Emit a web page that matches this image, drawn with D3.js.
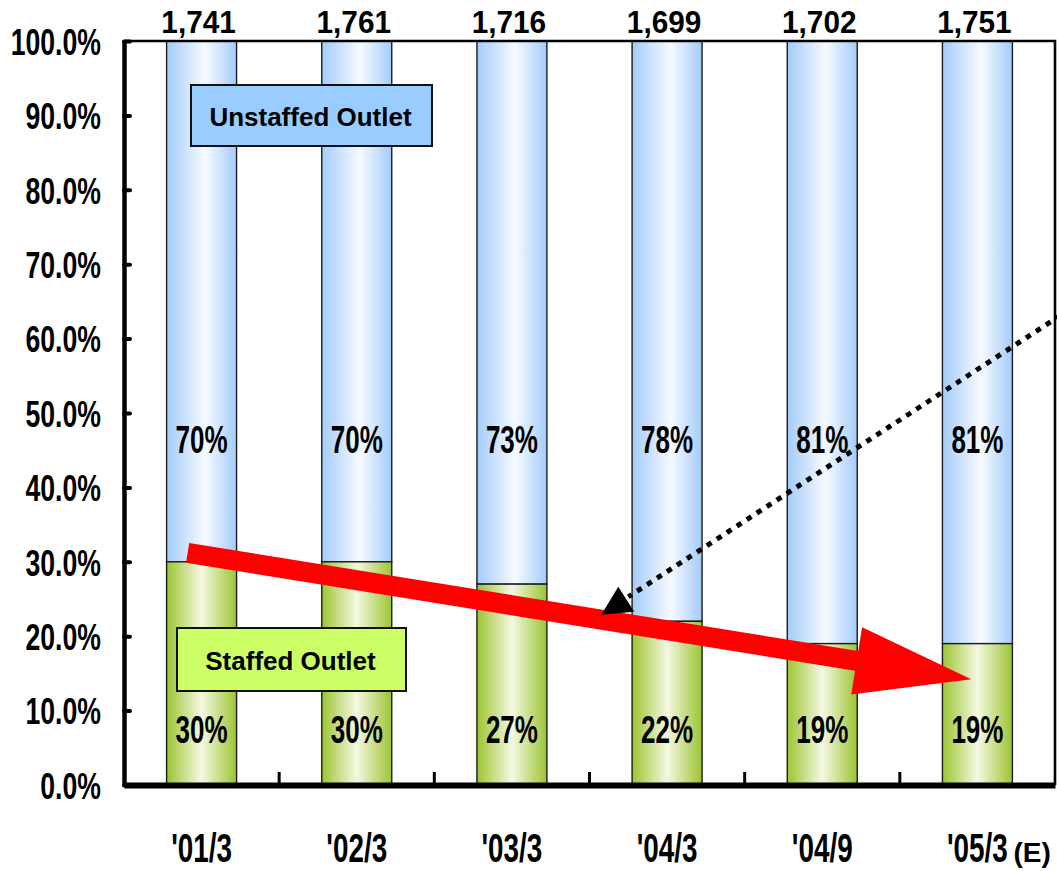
<!DOCTYPE html>
<html>
<head>
<meta charset="utf-8">
<script src="https://cdn.jsdelivr.net/npm/d3@7"></script>
<style>
  html, body { margin: 0; padding: 0; background: #ffffff; }
  svg { display: block; font-family: "Liberation Sans", Arial, Helvetica, sans-serif; }
</style>
</head>
<body>
<svg id="chart" width="1057" height="871"></svg>
<script>
// Outlet mix by fiscal period
const categories = ["'01/3", "'02/3", "'03/3", "'04/3", "'04/9", "'05/3"];
const categorySuffix = ["", "", "", "", "", "(E)"];
const staffedShare = [30, 30, 27, 22, 19, 19];
const unstaffedShare = [70, 70, 73, 78, 81, 81];
const outletTotals = [1741, 1761, 1716, 1699, 1702, 1751];
const yTicks = [0, 10, 20, 30, 40, 50, 60, 70, 80, 90, 100];

// Trend annotations in data units (category index, percent)
const trendArrow = { from: [-0.09, 31.2], to: [4.96, 14.2] };
const pointerArrow = { from: [5.6, 64], to: [2.75, 25.3] };

const W = 1057, H = 871;
const plot = { left: 124, right: 1055, top: 41, bottom: 785 };
const FONT = "'Liberation Sans', Arial, Helvetica, sans-serif";

const svg = d3.select("#chart");

const x = d3.scaleBand()
  .domain(categories)
  .range([plot.left, plot.right])
  .paddingInner(0.549)
  .paddingOuter(0.2745);

const y = d3.scaleLinear().domain([0, 100]).range([plot.bottom, plot.top]);

const bw = x.bandwidth();
const step = x.step();
const cx = c => x(c) + bw / 2;
const xIdx = i => x(categories[0]) + bw / 2 + i * step;

// Horizontal "cylinder" gradients for the bar segments
const defs = svg.append("defs");
function hGrad(id, edge, mid, midPos) {
  const g = defs.append("linearGradient").attr("id", id)
    .attr("x1", "0%").attr("x2", "100%").attr("y1", "0%").attr("y2", "0%");
  g.append("stop").attr("offset", "0%").attr("stop-color", edge);
  g.append("stop").attr("offset", midPos).attr("stop-color", mid);
  g.append("stop").attr("offset", "100%").attr("stop-color", edge);
}
hGrad("gradBlue", "#a3ccfa", "#f7faff", "55%");
hGrad("gradGreen", "#9cc532", "#f4f8e2", "50%");

// Bars: staffed at the bottom, unstaffed stacked on top
const bars = svg.append("g").selectAll("g")
  .data(categories.map((c, i) => ({ c, s: staffedShare[i], u: unstaffedShare[i], total: outletTotals[i] })))
  .join("g");

bars.append("rect")
  .attr("x", d => x(d.c))
  .attr("width", bw)
  .attr("y", d => y(d.s + d.u))
  .attr("height", d => y(d.s) - y(d.s + d.u))
  .attr("fill", "url(#gradBlue)")
  .attr("stroke", "#1c1c1c")
  .attr("stroke-width", 1.4);

bars.append("rect")
  .attr("x", d => x(d.c))
  .attr("width", bw)
  .attr("y", d => y(d.s))
  .attr("height", d => y(0) - y(d.s))
  .attr("fill", "url(#gradGreen)")
  .attr("stroke", "#1c1c1c")
  .attr("stroke-width", 1.4);

// Plot frame (top and right edges)
svg.append("path")
  .attr("d", `M${plot.left},${plot.top}H${plot.right}V${plot.bottom}`)
  .attr("fill", "none").attr("stroke", "#000").attr("stroke-width", 2.6);

// Y axis
const yAxis = svg.append("g")
  .attr("transform", `translate(${plot.left},0)`)
  .call(d3.axisLeft(y).tickValues(yTicks).tickSizeInner(-6).tickSizeOuter(0)
    .tickPadding(23).tickFormat(d => d.toFixed(1) + "%"));
yAxis.attr("font-family", FONT).attr("font-size", 37).attr("font-weight", "bold");
yAxis.select(".domain").attr("stroke-width", 4.5);
yAxis.selectAll(".tick line").attr("stroke-width", 4).attr("stroke-linecap", "round");
yAxis.selectAll(".tick text")
  .attr("x", null).attr("dy", null)
  .attr("transform", `translate(-23,${0.358 * 37}) scale(0.72,1)`);

// X axis baseline
const xAxis = svg.append("g")
  .attr("transform", `translate(0,${plot.bottom})`)
  .call(d3.axisBottom(x).tickSize(0).tickFormat(""));
xAxis.select(".domain").attr("stroke-width", 6);

// Tick marks between categories
svg.append("g").selectAll("line")
  .data(categories.slice(0, -1))
  .join("line")
  .attr("x1", d => x(d) + bw + (step - bw) / 2)
  .attr("x2", d => x(d) + bw + (step - bw) / 2)
  .attr("y1", plot.bottom)
  .attr("y2", plot.bottom - 13)
  .attr("stroke", "#000").attr("stroke-width", 3);

// Category labels
const catLabels = svg.append("g").attr("font-family", FONT).attr("font-weight", "bold");
catLabels.selectAll("text.cat")
  .data(categories)
  .join("text")
  .attr("class", "cat")
  .attr("text-anchor", "middle")
  .attr("font-size", 41)
  .attr("transform", d => `translate(${cx(d)},862) scale(0.68,1)`)
  .text(d => d);
catLabels.selectAll("text.suffix")
  .data(categories.map((c, i) => ({ c, s: categorySuffix[i] })).filter(d => d.s))
  .join("text")
  .attr("class", "suffix")
  .attr("font-size", 28)
  .attr("x", d => cx(d.c) + 36)
  .attr("y", 862)
  .text(d => d.s);

// Totals above each bar
svg.append("g").selectAll("text")
  .data(categories.map((c, i) => ({ c, v: outletTotals[i] })))
  .join("text")
  .attr("font-family", FONT).attr("font-weight", "bold").attr("font-size", 31)
  .attr("text-anchor", "middle")
  .attr("transform", d => `translate(${cx(d.c) - 3},33) scale(0.96,1)`)
  .text(d => d3.format(",")(d.v));

// Share labels inside the bars
const pctFs = 39;
const shareLabels = svg.append("g").attr("font-family", FONT).attr("font-weight", "bold")
  .attr("font-size", pctFs).attr("text-anchor", "middle");
shareLabels.selectAll("text.u")
  .data(categories.map((c, i) => ({ c, v: unstaffedShare[i] })))
  .join("text").attr("class", "u")
  .attr("transform", d => `translate(${cx(d.c)},${y(46.5) + 0.358 * pctFs}) scale(0.667,1)`)
  .text(d => d.v + "%");
shareLabels.selectAll("text.s")
  .data(categories.map((c, i) => ({ c, v: staffedShare[i] })))
  .join("text").attr("class", "s")
  .attr("transform", d => `translate(${cx(d.c)},${y(7.5) + 0.358 * pctFs}) scale(0.667,1)`)
  .text(d => d.v + "%");

// Series name boxes
const seriesBoxes = [
  { name: "Unstaffed Outlet", fill: "#99ccff", x0: 191, x1: 432, y0: 85, y1: 146 },
  { name: "Staffed Outlet", fill: "#ccff66", x0: 177, x1: 406, y0: 628, y1: 691 }
];
const boxG = svg.append("g").selectAll("g").data(seriesBoxes).join("g");
boxG.append("rect")
  .attr("x", d => d.x0).attr("y", d => d.y0)
  .attr("width", d => d.x1 - d.x0).attr("height", d => d.y1 - d.y0)
  .attr("fill", d => d.fill).attr("stroke", "#111").attr("stroke-width", 2);
boxG.append("text")
  .attr("x", d => (d.x0 + d.x1) / 2 - 1)
  .attr("y", d => (d.y0 + d.y1) / 2 + 10)
  .attr("text-anchor", "middle")
  .attr("font-family", FONT).attr("font-weight", "bold").attr("font-size", 26)
  .text(d => d.name);

// Red downward trend arrow
(function () {
  const S = [xIdx(trendArrow.from[0]), y(trendArrow.from[1])];
  const T = [xIdx(trendArrow.to[0]), y(trendArrow.to[1])];
  const dx = T[0] - S[0], dy = T[1] - S[1];
  const len = Math.hypot(dx, dy);
  const u = [dx / len, dy / len], n = [-u[1], u[0]];
  const headLen = 116, headHalf = 34, shaftHalf = 10;
  const B = [T[0] - u[0] * headLen, T[1] - u[1] * headLen];
  const p = (P, k) => [P[0] + n[0] * k, P[1] + n[1] * k];
  const pts = [p(S, -shaftHalf), p(B, -shaftHalf), p(B, -headHalf), T,
               p(B, headHalf), p(B, shaftHalf), p(S, shaftHalf)];
  svg.append("path")
    .attr("d", "M" + pts.map(q => q.join(",")).join("L") + "Z")
    .attr("fill", "#ff0000");
})();

// Dotted pointer arrow
(function () {
  const S = [xIdx(pointerArrow.from[0]), y(pointerArrow.from[1])];
  const E = [xIdx(pointerArrow.to[0]), y(pointerArrow.to[1])];
  svg.append("line")
    .attr("x1", S[0]).attr("y1", S[1]).attr("x2", E[0]).attr("y2", E[1])
    .attr("stroke", "#000").attr("stroke-width", 5)
    .attr("stroke-dasharray", "5.5 6.4");
  svg.append("path")
    .attr("d", `M${E[0] - 10},${E[1] - 10}L${E[0] + 6},${E[1] + 15}L${E[0] - 27},${E[1] + 18}Z`)
    .attr("fill", "#000");
})();
</script>
</body>
</html>
